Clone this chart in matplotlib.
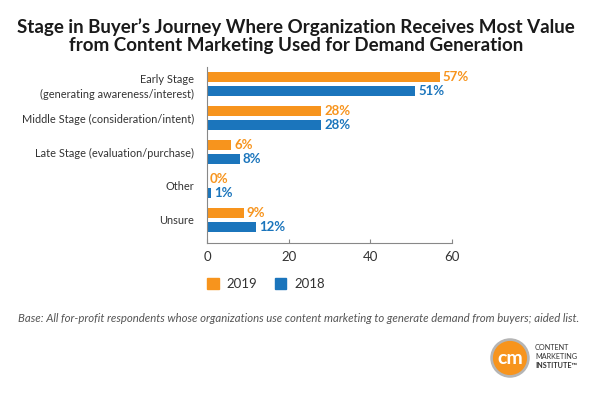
"""
Stage in buyer's journey chart, 2019 vs 2018
"""

import matplotlib

matplotlib.use("Agg")
from matplotlib import pyplot as plt
from matplotlib.patches import Circle, Patch

categories = [
    "Early Stage\n(generating awareness/interest)",
    "Middle Stage (consideration/intent)",
    "Late Stage (evaluation/purchase)",
    "Other",
    "Unsure",
]
values_2019 = [57, 28, 6, 0, 9]
values_2018 = [51, 28, 8, 1, 12]
series_names = ["2019", "2018"]
xticks = [0, 20, 40, 60]

ORANGE = "#F7941D"
BLUE = "#1B75BC"
TEXT = "#333333"

plt.rcParams["font.family"] = ["Lato", "DejaVu Sans"]

fig = plt.figure(figsize=(6, 3.97), dpi=100)
fig.patch.set_facecolor("white")

ax = fig.add_axes([207 / 600, 154 / 397, 245 / 600, 176 / 397])

ypos = list(range(len(categories)))
bh = 10 / 34
off = 7 / 34
ax.barh([y - off for y in ypos], values_2019, height=bh, color=ORANGE)
ax.barh([y + off for y in ypos], values_2018, height=bh, color=BLUE)

for y, v in zip(ypos, values_2019):
    ax.text(v + 0.7, y - off, f"{v}%", color=ORANGE, fontsize=9.5,
            fontweight="bold", va="center", ha="left")
for y, v in zip(ypos, values_2018):
    ax.text(v + 0.7, y + off, f"{v}%", color=BLUE, fontsize=9.5,
            fontweight="bold", va="center", ha="left")

ax.set_xlim(0, 60)
ax.set_ylim(4 + 23 / 34, -0.5)
ax.set_xticks(xticks)
ax.set_yticks(ypos)
ax.set_yticklabels(categories, fontsize=7.9, color=TEXT, linespacing=1.4)
ax.tick_params(axis="y", length=0, pad=9)
ax.tick_params(axis="x", direction="in", length=3, color="#888888",
               labelsize=9.5, labelcolor=TEXT, pad=6)
for s in ["top", "right"]:
    ax.spines[s].set_visible(False)
for s in ["left", "bottom"]:
    ax.spines[s].set_color("#888888")
    ax.spines[s].set_linewidth(0.8)

fig.text(0.493, 1 - 36 / 397,
         "Stage in Buyer\u2019s Journey Where Organization Receives Most Value\n"
         "from Content Marketing Used for Demand Generation",
         ha="center", va="center", fontsize=13.5, fontweight="bold",
         color="#1a1a1a", linespacing=1.05)

handles = [Patch(color=ORANGE), Patch(color=BLUE)]
fig.legend(handles, series_names, loc="center left",
           bbox_to_anchor=(195 / 600, 1 - 284 / 397), ncol=2, frameon=False,
           handlelength=0.9, handleheight=0.9, handletextpad=0.6,
           columnspacing=1.3, fontsize=9.5, labelcolor=TEXT)

fig.text(18 / 600, 1 - 318 / 397,
         "Base: All for-profit respondents whose organizations use content "
         "marketing to generate demand from buyers; aided list.",
         ha="left", va="center", fontsize=8.2, style="italic", color="#555555")

# logo
lax = fig.add_axes([490 / 600, 1 - 378 / 397, 40 / 600, 40 / 397])
lax.set_xlim(-1.05, 1.05)
lax.set_ylim(-1.05, 1.05)
lax.set_aspect("equal")
lax.axis("off")
lax.add_patch(Circle((0, 0), 1.0, color="#b5b5b5"))
lax.add_patch(Circle((0, 0), 0.86, color=ORANGE))
lax.text(0, -0.05, "cm", color="white", fontsize=14, fontweight="bold",
         ha="center", va="center")
for i, w in enumerate(["CONTENT", "MARKETING", "INSTITUTE\u2122"]):
    fig.text(535 / 600, 1 - (348 + i * 8.5) / 397, w, fontsize=5.2,
             color=TEXT, ha="left", va="center",
             fontweight="bold" if i == 2 else "normal")

fig.savefig("out.png", dpi=100)
